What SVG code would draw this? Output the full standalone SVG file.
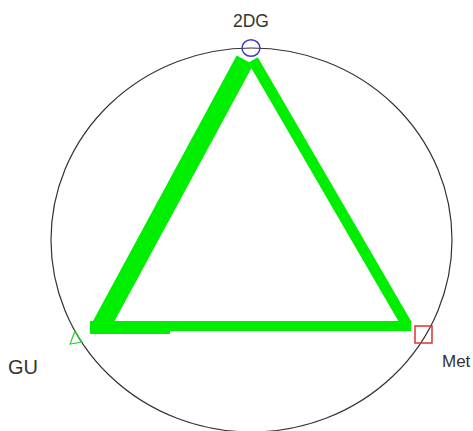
<svg xmlns="http://www.w3.org/2000/svg" width="473" height="431" viewBox="0 0 473 431">
<style>
.lbl{font-family:"Liberation Sans",Arial,sans-serif;fill:#333;}
.edge{stroke:#00ee00;fill:none;stroke-linecap:butt;}
</style>
<rect width="473" height="431" fill="#fff"/>
<ellipse cx="251.5" cy="240" rx="200.5" ry="192" fill="none" stroke="#333" stroke-width="1.2"/>
<g id="connectors">
<line class="edge" x1="245" y1="60" x2="100" y2="328" stroke-width="19"/>
<line class="edge" x1="253" y1="60" x2="407" y2="325" stroke-width="11"/>
<line class="edge" x1="96" y1="326" x2="411" y2="326" stroke-width="10"/>
<line class="edge" x1="90" y1="327.5" x2="170" y2="327.5" stroke-width="13"/>
</g>
<g id="node-2DG">
<ellipse cx="251" cy="48" rx="9" ry="8.3" fill="none" stroke="#3a3acc" stroke-width="1.5"/>
<text class="lbl" x="251" y="27" font-size="17.5" text-anchor="middle">2DG</text>
</g>
<g id="node-GU">
<polygon points="75,331 70,344 82,342" fill="none" stroke="#33cc33" stroke-width="1.2"/>
<text class="lbl" x="8" y="374" font-size="20">GU</text>
</g>
<g id="node-Met">
<rect x="415" y="326" width="17" height="17" fill="none" stroke="#dd3333" stroke-width="1.5"/>
<text class="lbl" x="442" y="367" font-size="17">Met</text>
</g>
</svg>
